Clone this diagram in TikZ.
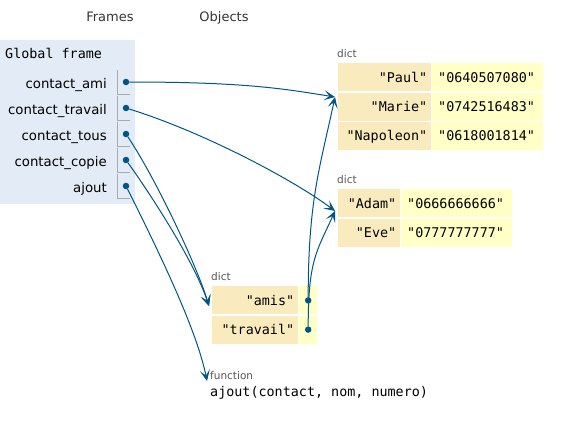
\documentclass[tikz,border=0pt]{standalone}
\usepackage{fontspec}
\setmainfont{DejaVu Sans}
\setsansfont{DejaVu Sans}
\setmonofont{DejaVu Sans Mono}
\usetikzlibrary{arrows.meta,positioning}
\definecolor{framebg}{HTML}{E2EBF6}
\definecolor{keybg}{HTML}{FAEBBF}
\definecolor{valbg}{HTML}{FFFFC6}
\definecolor{ptrblue}{HTML}{005583}
\definecolor{labelgray}{HTML}{555555}
\definecolor{headgray}{HTML}{333333}
\definecolor{cellgray}{HTML}{AAAAAA}
\newcommand\monotxt{\fontsize{13.4}{15}\selectfont\ttfamily}
\tikzstyle{keycell}=[fill=keybg, minimum height=28pt, inner xsep=4pt, inner ysep=0pt,
  text height=9.5pt, text depth=0pt, align=right, font=\monotxt]
\tikzstyle{valcell}=[fill=valbg, minimum height=28pt, inner xsep=6pt, inner ysep=0pt,
  text height=9.5pt, text depth=0pt, align=left, font=\monotxt]
\tikzstyle{dicttab}=[anchor=north west, inner sep=0pt, column sep=1pt, row sep=1pt]
\tikzstyle{typelabel}=[anchor=base west, inner sep=0pt, text=labelgray,
  font=\fontsize{10.5}{12}\selectfont]
\tikzstyle{varname}=[anchor=base east, inner sep=0pt, font=\fontsize{13.3}{16}\selectfont]
\tikzstyle{ptrcell}=[draw=cellgray, line width=1pt]
\tikzstyle{ptrdot}=[circle, fill=ptrblue, inner sep=0pt, minimum size=6.5pt]
\tikzstyle{ptr}=[draw=ptrblue, line width=1pt, -{Stealth[length=11pt,width=10pt,inset=5.5pt]}]

\begin{document}
\begin{tikzpicture}[x=1pt, y=-1pt]
  \useasboundingbox (0,0) rectangle (575,420);
  % headers
  \node[anchor=base, inner sep=0pt, text=headgray, font=\fontsize{13}{15}\selectfont]
    (hframes) at (110,22) {Frames};
  \node[anchor=base, inner sep=0pt, text=headgray, font=\fontsize{13}{15}\selectfont]
    (hobjects) at (224,22) {Objects};

  % global frame
  \fill[framebg] (0,40) rectangle (135,204);
  \node[anchor=base west, inner sep=0pt, font=\monotxt] (gframe) at (5,59) {Global frame};
  \node[varname] (vami) at (107,88) {contact\_ami};
  \node[varname] (vtravail) at (107,114) {contact\_travail};
  \node[varname] (vtous) at (107,140) {contact\_tous};
  \node[varname] (vcopie) at (107,166) {contact\_copie};
  \node[varname] (vajout) at (107,192) {ajout};
  \draw[ptrcell] (117,70) |- (130,94);
  \draw[ptrcell] (117,96) |- (130,120);
  \draw[ptrcell] (117,122) |- (130,146);
  \draw[ptrcell] (117,148) |- (130,172);
  \draw[ptrcell] (117,174) |- (130,198);
  \node[ptrdot] (pami) at (126,82) {};
  \node[ptrdot] (ptravail) at (126,108) {};
  \node[ptrdot] (ptous) at (126,134) {};
  \node[ptrdot] (pcopie) at (126,160) {};
  \node[ptrdot] (pajout) at (126,186) {};

  % dicts
  \node[typelabel] (ldA) at (337,57) {dict};
  \matrix (dA) [dicttab] at (338,63) {
    \node[keycell, text width=85pt] (kpaul) {"Paul"}; &
    \node[valcell, text width=99pt] (vpaul) {"0640507080"}; \\
    \node[keycell, text width=85pt] (kmarie) {"Marie"}; &
    \node[valcell, text width=99pt] (vmarie) {"0742516483"}; \\
    \node[keycell, text width=85pt] (knapo) {"Napoleon"}; &
    \node[valcell, text width=99pt] (vnapo) {"0618001814"}; \\
  };
  \node[typelabel] (ldB) at (337,183) {dict};
  \matrix (dB) [dicttab] at (338,189) {
    \node[keycell, text width=54pt] (kadam) {"Adam"}; &
    \node[valcell, text width=99pt] (vadam) {"0666666666"}; \\
    \node[keycell, text width=54pt] (keve) {"Eve"}; &
    \node[valcell, text width=99pt] (veve) {"0777777777"}; \\
  };
  \node[typelabel] (ldC) at (211,280) {dict};
  \matrix (dC) [dicttab] at (212,286) {
    \node[keycell, text width=78pt] (kamis) {"amis"}; &
    \node[valcell, inner xsep=0pt, minimum width=18pt] (vamis) {}; \\
    \node[keycell, text width=78pt] (ktravail) {"travail"}; &
    \node[valcell, inner xsep=0pt, minimum width=18pt] (vtrav) {}; \\
  };
  \node[ptrdot] (amisdot) at (vamis) {};
  \node[ptrdot] (travdot) at (vtrav) {};

  % function
  \node[typelabel] (lfn) at (210,379) {function};
  \node[anchor=base west, inner sep=0pt, font=\monotxt] (fn) at (210,396)
    {ajout(contact, nom, numero)};

  % arrow ends
  \coordinate (dAin) at (335,97);
  \coordinate (dBin) at (335,211);
  \coordinate (dCin) at (209,306);
  \coordinate (fnin) at (207,381);

  % pointers
  \draw[ptr] (pami) .. controls +(120,0) and +(-50,-8) .. (dAin);
  \draw[ptr] (ptravail) .. controls +(80,25) and +(-40,-30) .. (dBin);
  \draw[ptr] (ptous) .. controls +(30,45) and +(-12,-40) .. (dCin);
  \draw[ptr] (pcopie) .. controls +(25,35) and +(-15,-45) .. (dCin);
  \draw[ptr] (pajout) .. controls +(35,70) and +(-10,-50) .. (fnin);
  \draw[ptr] (amisdot) .. controls +(0,-100) and +(-15,70) .. (dAin);
  \draw[ptr] (travdot) .. controls +(0,-70) and +(-18,40) .. (dBin);
\end{tikzpicture}
\end{document}
